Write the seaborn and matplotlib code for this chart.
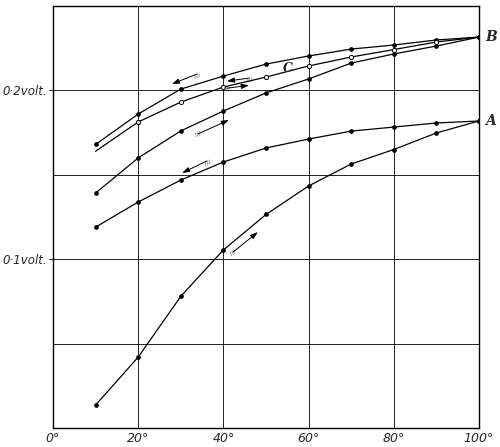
#!/usr/bin/env python3
# -*- coding: utf-8 -*-
"""
Thermo-electric curves: EMF against temperature, heating and cooling runs
"""

import numpy as np
import matplotlib
matplotlib.use('Agg')
import matplotlib.pyplot as plt
import seaborn as sns
import pandas as pd

# temperature (degrees) at which readings were taken
temps = [10, 20, 30, 40, 50, 60, 70, 80, 90, 100]

# curve A, rising run (heating) and returning run (cooling)
a_up = [0.0136, 0.0420, 0.0780, 0.1055, 0.1265, 0.1434, 0.1564, 0.1650, 0.1748, 0.1819]
a_down = [0.1190, 0.1339, 0.1469, 0.1576, 0.1659, 0.1712, 0.1759, 0.1783, 0.1807, 0.1819]

# curve B, rising run, returning run and the intermediate curve C
b_up = [0.1392, 0.1600, 0.1760, 0.1878, 0.1985, 0.2068, 0.2162, 0.2216, 0.2263, 0.2316]
b_down = [0.1680, 0.1860, 0.2008, 0.2085, 0.2156, 0.2204, 0.2245, 0.2269, 0.2299, 0.2316]
c_vals = [0.1640, 0.1813, 0.1931, 0.2020, 0.2079, 0.2145, 0.2198, 0.2242, 0.2287, 0.2316]

x_ticks = [0, 20, 40, 60, 80, 100]
x_labels = ['0°', '20°', '40°', '60°', '80°', '100°']
y_ticks = [0.1, 0.2]
y_labels = ['0·1volt.', '0·2volt.']


def main():
    sns.set_style('white')
    plt.rcParams['font.family'] = ['DejaVu Sans']

    fig = plt.figure(figsize=(5.0, 4.47), dpi=100)
    ax = fig.add_axes([0.106, 0.0425, 0.852, 0.944])

    curves = {'a_up': a_up, 'a_down': a_down, 'b_up': b_up, 'b_down': b_down}
    for name, vals in curves.items():
        df = pd.DataFrame({'temp': temps, 'volt': vals})
        sns.lineplot(data=df, x='temp', y='volt', ax=ax, color='black', lw=0.9,
                     marker='o', markersize=3.4, markeredgewidth=0, sort=True)

    # curve C: no reading marked at 10 degrees, hollow points
    df_c = pd.DataFrame({'temp': temps, 'volt': c_vals})
    sns.lineplot(data=df_c, x='temp', y='volt', ax=ax, color='black', lw=0.9)
    ax.plot(df_c['temp'][1:-1], df_c['volt'][1:-1], 'o', ms=3, mfc='white', mec='black', mew=0.7)

    ax.set_xlim(0, 100)
    ax.set_ylim(0, 0.25)
    ax.set_xticks(x_ticks)
    ax.set_xticklabels(x_labels, style='italic', fontsize=9)
    # labels only at 0.1 and 0.2, grid every 0.05 volt
    ax.set_yticks(y_ticks)
    ax.set_yticklabels(y_labels, style='italic', fontsize=8.5)
    ax.set_yticks(np.arange(0, 0.2501, 0.05), minor=True)
    ax.tick_params(axis='x', length=0, pad=3)
    ax.tick_params(axis='y', which='major', length=3, width=0.8, pad=1, left=True)
    ax.tick_params(axis='y', which='minor', length=0)
    ax.set_xlabel('')
    ax.set_ylabel('')
    ax.grid(True, which='both', color='#222222', lw=0.7)
    for sp in ax.spines.values():
        sp.set_color('black')
        sp.set_linewidth(1.0)

    # curve letters
    ax.text(101.5, 0.2316, 'B', family='DejaVu Serif', weight='bold', style='italic',
            fontsize=10, va='center', ha='left', clip_on=False)
    ax.text(101.5, 0.1819, 'A', family='DejaVu Serif', weight='bold', style='italic',
            fontsize=10, va='center', ha='left', clip_on=False)
    ax.text(55.2, 0.2130, 'C', family='DejaVu Serif', weight='bold', style='italic',
            fontsize=9, va='center', ha='center')

    # direction arrows (head, tail)
    arrows = [((27.9, 0.2038), (33.8, 0.2097)),
              ((40.8, 0.2055), (46.0, 0.2073)),
              ((46.0, 0.2030), (40.8, 0.2013)),
              ((41.3, 0.1825), (34.0, 0.1742)),
              ((30.3, 0.1511), (36.1, 0.1582)),
              ((48.1, 0.1161), (42.3, 0.1043))]
    for head, tail in arrows:
        ax.annotate('', xy=head, xytext=tail,
                    arrowprops=dict(arrowstyle='-|>,head_length=0.45,head_width=0.15',
                                    color='black', lw=0.7, shrinkA=0, shrinkB=0))
        dx = head[0] - tail[0]
        dy = (head[1] - tail[1]) * 400
        ang = np.degrees(np.arctan2(dy, dx))
        ax.text(tail[0], tail[1], '///', fontsize=4.5, rotation=ang,
                ha='center', va='center', color='#333333')

    fig.savefig('out.png', dpi=100, facecolor='white')


if __name__ == '__main__':
    main()
